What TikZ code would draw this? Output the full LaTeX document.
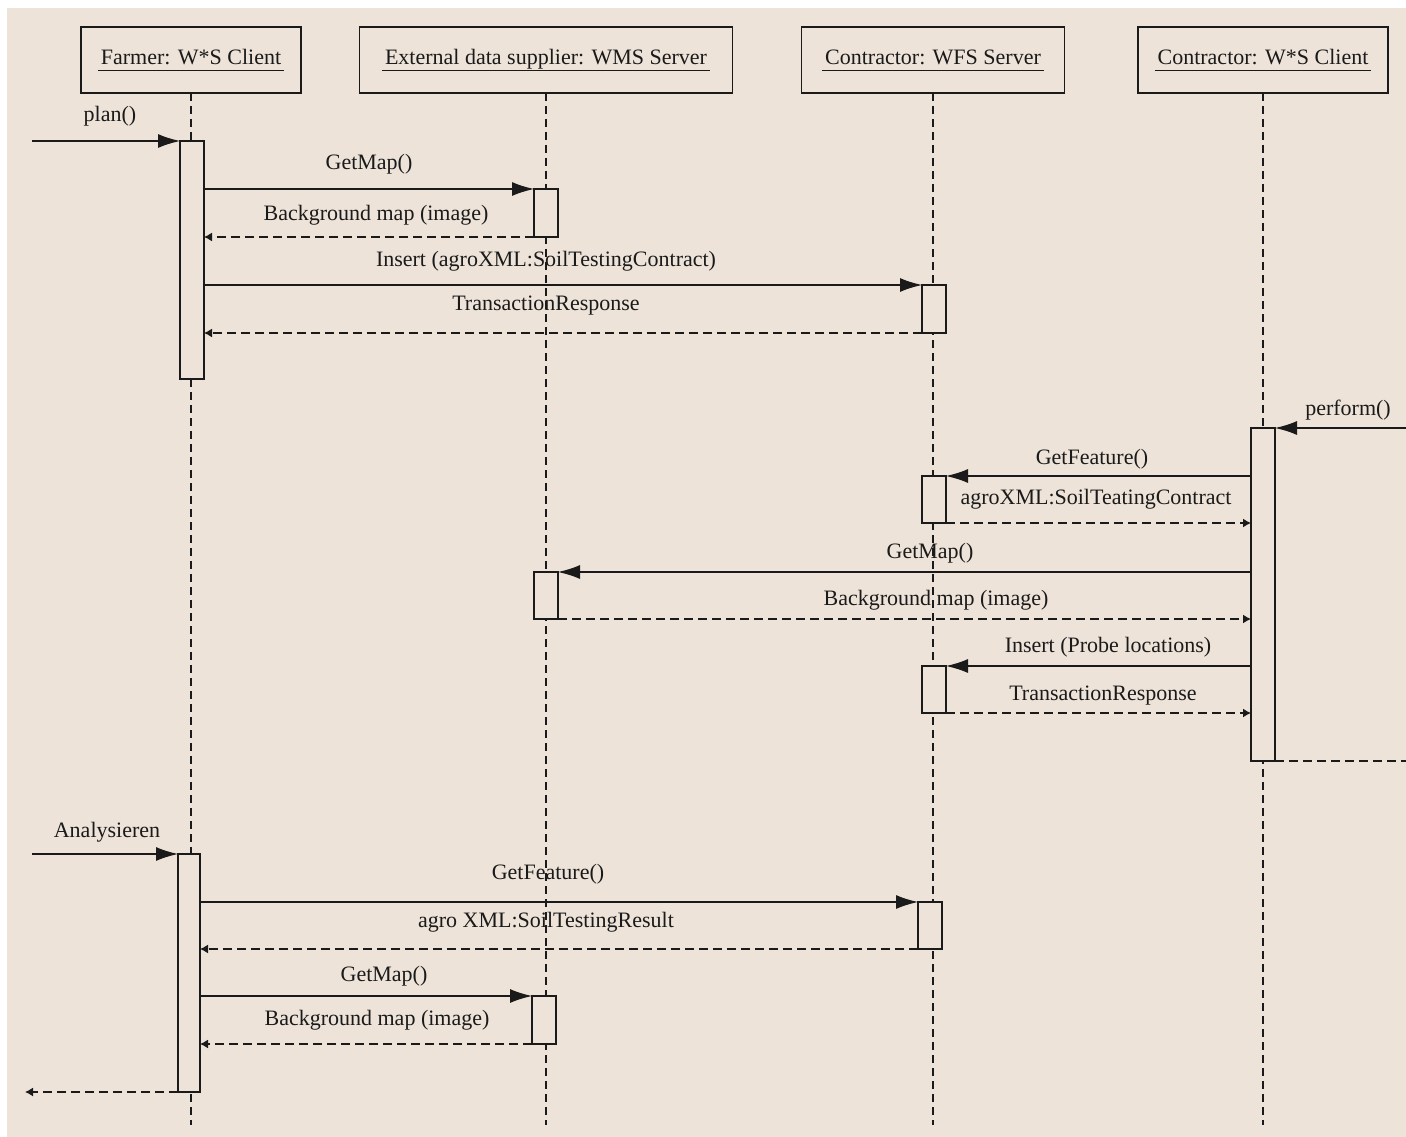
\documentclass[tikz,border=0pt]{standalone}
\usepackage{fontspec}
\setmainfont{Liberation Serif}
\usetikzlibrary{arrows.meta}
\definecolor{bg}{HTML}{EDE3D9}
\definecolor{ink}{HTML}{1A1A1A}
\newcommand\hul[1]{\setbox0=\hbox{#1}\copy0\llap{\rule[-6pt]{\dimexpr\wd0+6pt\relax}{1.4pt}\hspace{-3pt}}}
\begin{document}
\begin{tikzpicture}[x=1pt,y=-1pt,
  every node/.style={font=\fontsize{22}{24}\selectfont, text=ink},
  objbox/.style={draw=ink, line width=1.3pt, fill=bg, minimum height=66pt, inner sep=0pt, outer sep=0pt, text height=18pt, text depth=8pt},
  act/.style={draw=ink, line width=1.3pt, fill=bg, minimum width=24pt, inner sep=0pt, outer sep=0pt, anchor=north},
  life/.style={draw=ink, line width=1.3pt, dash pattern=on 8pt off 5pt},
  sync/.style={draw=ink, line width=1.3pt, -{Latex[length=22pt,width=14pt]}},
  reply/.style={draw=ink, line width=1.3pt, dash pattern=on 9pt off 5pt, -{Latex[length=8pt,width=9pt]}},
  retline/.style={draw=ink, line width=1.3pt, dash pattern=on 9pt off 5pt},
  lbl/.style={anchor=base, inner sep=0pt}
]
\useasboundingbox (0,0) rectangle (1406,1137);
\fill[white] (0,0) rectangle (1406,1137);
\fill[bg] (7,8) rectangle (1406,1137);

% objects
\node[objbox, minimum width=220pt] (farmer) at (191,60) {\hul{Farmer: W*S Client}};
\node[objbox, minimum width=373pt] (wms) at (546,60) {\hul{External data supplier: WMS Server}};
\node[objbox, minimum width=263pt] (wfs) at (933,60) {\hul{Contractor: WFS Server}};
\node[objbox, minimum width=250pt] (client) at (1263,60) {\hul{Contractor: W*S Client}};

% lifelines
\coordinate (bottom) at (0,1125);
\draw[life] (farmer.south) -- (farmer.south |- bottom);
\draw[life] (wms.south) -- (wms.south |- bottom);
\draw[life] (wfs.south) -- (wfs.south |- bottom);
\draw[life] (client.south) -- (client.south |- bottom);

% activations
\node[act, minimum height=238pt] (fa1) at (192,141) {};
\node[act, minimum height=48pt] (wa1) at (546,189) {};
\node[act, minimum height=48pt] (sa1) at (934,285) {};
\node[act, minimum height=333pt] (ca1) at (1263,428) {};
\node[act, minimum height=47pt] (sa2) at (934,476) {};
\node[act, minimum height=47pt] (wa2) at (546,572) {};
\node[act, minimum height=47pt] (sa3) at (934,666) {};
\node[act, minimum height=238pt, minimum width=22pt] (fa2) at (189,854) {};
\node[act, minimum height=47pt] (sa4) at (930,902) {};
\node[act, minimum height=48pt] (wa3) at (544,996) {};

% messages, first block
\coordinate (planin) at (32,141);
\draw[sync] (planin) -- (fa1.north west);
\node[lbl] (lplan) at (110,122) {plan()};
\draw[sync] (fa1.east |- wa1.north) -- (wa1.north west);
\node[lbl] (lgm1) at (369,169) {GetMap()};
\draw[reply] (wa1.south west) -- (fa1.east |- wa1.south);
\node[lbl] (lbm1) at (376,220) {Background map (image)};
\draw[sync] (fa1.east |- sa1.north) -- (sa1.north west);
\node[lbl] (lins1) at (546,266) {Insert (agroXML:SoilTestingContract)};
\draw[reply] (sa1.south west) -- (fa1.east |- sa1.south);
\node[lbl] (ltr1) at (546,310) {TransactionResponse};

% second block
\coordinate (perfin) at (1406,428);
\draw[sync] (perfin) -- (ca1.north east);
\node[lbl] (lperf) at (1348,415) {perform()};
\draw[sync] (ca1.west |- sa2.north) -- (sa2.north east);
\node[lbl] (lgf1) at (1092,464) {GetFeature()};
\draw[reply] (sa2.south east) -- (ca1.west |- sa2.south);
\node[lbl] (lstc) at (1096,504) {agroXML:SoilTeatingContract};
\draw[sync] (ca1.west |- wa2.north) -- (wa2.north east);
\node[lbl] (lgm2) at (930,558) {GetMap()};
\draw[reply] (wa2.south east) -- (ca1.west |- wa2.south);
\node[lbl] (lbm2) at (936,605) {Background map (image)};
\draw[sync] (ca1.west |- sa3.north) -- (sa3.north east);
\node[lbl] (lins2) at (1108,652) {Insert (Probe locations)};
\draw[reply] (sa3.south east) -- (ca1.west |- sa3.south);
\node[lbl] (ltr2) at (1103,700) {TransactionResponse};
\coordinate (perfout) at (1406,761);
\draw[retline] (ca1.south east) -- (perfout);

% third block
\coordinate (anain) at (32,854);
\draw[sync] (anain) -- (fa2.north west);
\node[lbl] (lana) at (107,837) {Analysieren};
\draw[sync] (fa2.east |- sa4.north) -- (sa4.north west);
\node[lbl] (lgf2) at (548,879) {GetFeature()};
\draw[reply] (sa4.south west) -- (fa2.east |- sa4.south);
\node[lbl] (lstr) at (546,927) {agro XML:SoilTestingResult};
\draw[sync] (fa2.east |- wa3.north) -- (wa3.north west);
\node[lbl] (lgm3) at (384,981) {GetMap()};
\draw[reply] (wa3.south west) -- (fa2.east |- wa3.south);
\node[lbl] (lbm3) at (377,1025) {Background map (image)};
\coordinate (anaout) at (25,1092);
\draw[reply] (fa2.south west) -- (anaout);
\end{tikzpicture}
\end{document}
